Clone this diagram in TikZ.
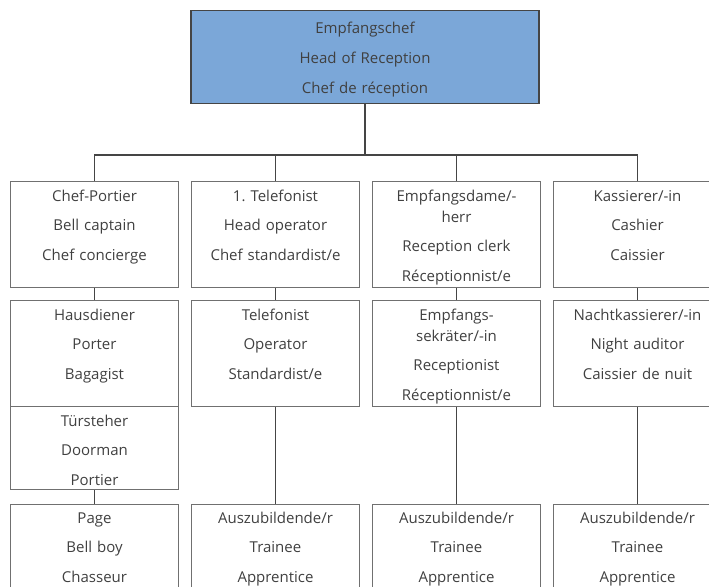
\documentclass[tikz,border=0pt]{standalone}
\usepackage{fontspec}
\setmainfont{Open Sans}
\usetikzlibrary{positioning}
\definecolor{headblue}{HTML}{7BA7D8}
\definecolor{txtgray}{HTML}{404040}
\definecolor{framegray}{HTML}{707070}
\definecolor{linegray}{HTML}{454545}
\newcommand{\postfont}{\fontsize{15}{21}\selectfont\frenchspacing}

\tikzset{
  post/.style={draw=framegray, line width=1.3pt, inner sep=0pt,
    minimum width=168pt, text width=166pt, align=center, anchor=north,
    text height=19.5pt, text depth=86.5pt, text=txtgray, font=\postfont},
  halfpost/.style={post, text depth=63.5pt},
  lowpost/.style={post, text height=18.5pt, text depth=87.5pt},
  head/.style={post, fill=headblue, draw=linegray, minimum width=348pt,
    text width=340pt, text height=23pt, text depth=70pt},
  link/.style={draw=linegray, line width=1.3pt}
}

\begin{document}
\begin{tikzpicture}[x=1pt,y=-1pt]
  \path[use as bounding box, clip] (0,0) rectangle (709,586);

  % head
  \node[head] (chef) at (365,10) {Empfangschef\\[8.7pt]Head of Reception\\[8.7pt]Chef de réception};
  \coordinate (bus) at (365,155);

  % first row
  \node[post] (portier) at (94.5,181) {Chef-Portier\\[8.7pt]Bell captain\\[8.7pt]Chef concierge};
  \node[post] (telefon1) at (275.5,181) {1. Telefonist\\[8.7pt]Head operator\\[8.7pt]Chef standardist/e};
  \node[post] (dame) at (456.5,181) {Empfangsdame/-\\herr\\[8.7pt]Reception clerk\\[8.7pt]Réceptionnist/e};
  \node[post] (kasse) at (637.5,181) {Kassierer/-in\\[8.7pt]Cashier\\[8.7pt]Caissier};

  % second row
  \node[post] (hausdiener) at (94.5,300) {Hausdiener\\[8.7pt]Porter\\[8.7pt]Bagagist};
  \node[halfpost, below=-1.3pt of hausdiener] (tuer) {Türsteher\\[8.7pt]Doorman\\[8.7pt]Portier};
  \node[post] (telefon) at (275.5,300) {Telefonist\\[8.7pt]Operator\\[8.7pt]Standardist/e};
  \node[post] (sekr) at (456.5,300) {Empfangs-\\sekräter/-in\\[8.7pt]Receptionist\\[8.7pt]Réceptionnist/e};
  \node[post] (nacht) at (637.5,300) {Nachtkassierer/-in\\[8.7pt]Night auditor\\[8.7pt]Caissier de nuit};

  % bottom row
  \node[lowpost] (page) at (94.5,504) {Page\\[8.7pt]Bell boy\\[8.7pt]Chasseur};
  \node[lowpost] (azubi2) at (275.5,504) {Auszubildende/r\\[8.7pt]Trainee\\[8.7pt]Apprentice};
  \node[lowpost] (azubi3) at (456.5,504) {Auszubildende/r\\[8.7pt]Trainee\\[8.7pt]Apprentice};
  \node[lowpost] (azubi4) at (637.5,504) {Auszubildende/r\\[8.7pt]Trainee\\[8.7pt]Apprentice};

  % connectors
  \draw[link] (chef.south) -- (bus);
  \foreach \n in {portier,telefon1,dame,kasse}
    \draw[link] (bus) -| (\n.north);
  \draw[link] (portier) -- (hausdiener);
  \draw[link] (tuer) -- (page);
  \draw[link] (telefon1) -- (telefon);
  \draw[link] (telefon) -- (azubi2);
  \draw[link] (dame) -- (sekr);
  \draw[link] (sekr) -- (azubi3);
  \draw[link] (kasse) -- (nacht);
  \draw[link] (nacht) -- (azubi4);
\end{tikzpicture}
\end{document}
